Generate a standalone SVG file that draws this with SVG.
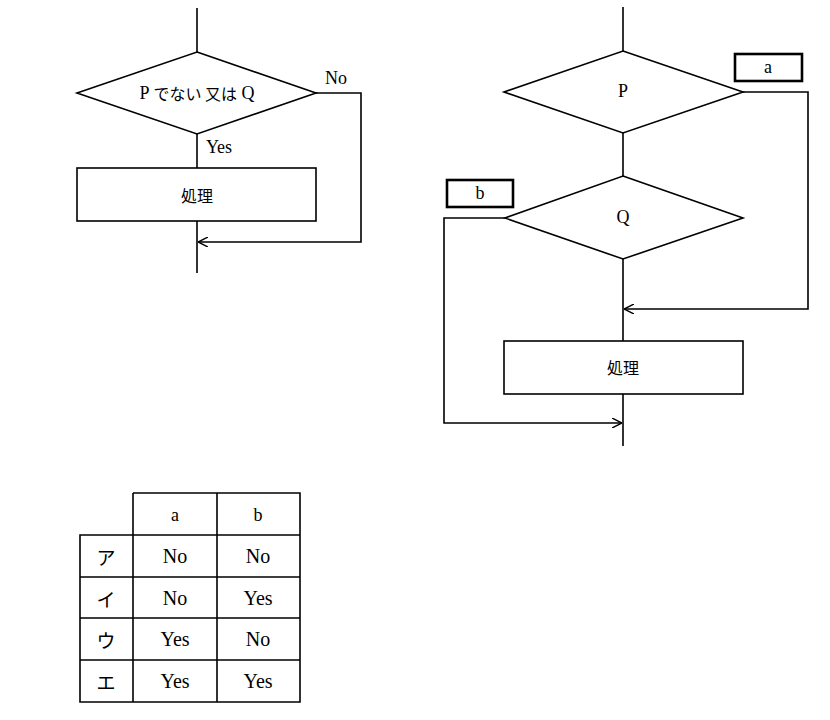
<svg xmlns="http://www.w3.org/2000/svg" width="830" height="720" viewBox="0 0 830 720">
<style>
.l{fill:none;stroke:#000;stroke-width:1.6}
.b{fill:none;stroke:#000;stroke-width:2.6}
text{font-family:"Liberation Serif","Noto Sans CJK JP",serif;font-size:18px;fill:#000;text-anchor:middle;dominant-baseline:central}
.t{font-size:20px}
.j{font-family:"Noto Sans CJK JP",sans-serif;font-size:16px}
.k{font-family:"Noto Sans CJK JP",sans-serif;font-size:19px}
</style>
<defs><marker id="ar" viewBox="0 0 10 10" refX="10" refY="5" markerWidth="10" markerHeight="10" markerUnits="userSpaceOnUse" orient="auto"><path d="M0,0L10,5L0,10" fill="none" stroke="#000" stroke-width="1.4"/></marker></defs>
<rect width="830" height="720" fill="#fff"/>
<g id="connectors">
<path class="l" d="M197,8V52M197,134V168M197,221V273"/>
<path class="l" d="M316,93H361V242H198" marker-end="url(#ar)"/>
<path class="l" d="M623,7V51M623,133V176M623,259V341M623,394V446"/>
<path class="l" d="M743,92H808V309H624" marker-end="url(#ar)"/>
<path class="l" d="M505,218H444V423H622" marker-end="url(#ar)"/>
</g>
<g id="d1"><polygon class="l" points="197,52 316,93 197,134 77,93"/><text x="197" y="93">P <tspan class="j">でない 又は</tspan> Q</text></g>
<text x="336" y="78">No</text>
<text x="219" y="147">Yes</text>
<g id="p1"><rect class="l" x="77" y="168" width="239" height="53"/><text x="197" y="195" class="j">処理</text></g>
<g id="dP"><polygon class="l" points="623,51 743,92 623,133 504,92"/><text x="623" y="91">P</text></g>
<g id="dQ"><polygon class="l" points="623,176 743,218 623,259 505,218"/><text x="623" y="217">Q</text></g>
<g id="p2"><rect class="l" x="504" y="341" width="239" height="53"/><text x="623" y="367" class="j">処理</text></g>
<g id="ba"><rect class="b" x="735" y="54" width="67" height="27"/><text x="768" y="67">a</text></g>
<g id="bb"><rect class="b" x="447" y="180" width="66" height="27"/><text x="480" y="193">b</text></g>
<g id="table">
<path class="l" d="M133,493H300V702H80V535H300M80,577H300M80,618H300M80,660H300M133,493V702M217,493V702M80,535V702"/>
<text x="175" y="515">a</text><text x="258" y="515">b</text>
<text x="106" y="556" class="k">ア</text><text x="175" y="556" class="t">No</text><text x="258" y="556" class="t">No</text>
<text x="106" y="598" class="k">イ</text><text x="175" y="598" class="t">No</text><text x="258" y="598" class="t">Yes</text>
<text x="106" y="639" class="k">ウ</text><text x="175" y="639" class="t">Yes</text><text x="258" y="639" class="t">No</text>
<text x="106" y="681" class="k">エ</text><text x="175" y="681" class="t">Yes</text><text x="258" y="681" class="t">Yes</text>
</g>
</svg>
